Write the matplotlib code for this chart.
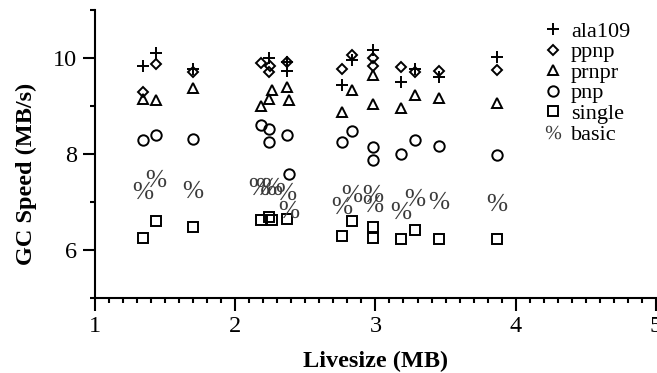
import matplotlib
matplotlib.use("Agg")
import matplotlib.pyplot as plt
from matplotlib.ticker import FixedLocator, MultipleLocator

plt.rcParams['font.family'] = ['Liberation Serif', 'DejaVu Serif']
plt.rcParams['mathtext.fontset'] = 'custom'
plt.rcParams['mathtext.rm'] = 'Liberation Serif'
plt.rcParams['mathtext.it'] = 'Liberation Serif:italic'
plt.rcParams['mathtext.bf'] = 'Liberation Serif:bold'

# ---- data ----
ala109_x = [1.34, 1.43, 1.70, 2.24, 2.37, 2.37, 2.76, 2.83, 2.98, 3.18, 3.28, 3.45, 3.87]
ala109_y = [9.83, 10.11, 9.78, 10.01, 9.92, 9.74, 9.43, 9.95, 10.17, 9.50, 9.77, 9.60, 10.02]

ppnp_x = [1.34, 1.43, 1.70, 2.18, 2.25, 2.24, 2.37, 2.76, 2.83, 2.98, 2.98, 3.18, 3.28, 3.45, 3.87]
ppnp_y = [9.29, 9.88, 9.71, 9.90, 9.84, 9.71, 9.92, 9.78, 10.06, 10.01, 9.83, 9.81, 9.71, 9.74, 9.76]

prnpr_x = [1.34, 1.43, 1.70, 2.18, 2.24, 2.26, 2.37, 2.38, 2.76, 2.83, 2.98, 2.98, 3.18, 3.28, 3.45, 3.87]
prnpr_y = [9.15, 9.12, 9.38, 9.01, 9.15, 9.34, 9.40, 9.12, 8.88, 9.33, 9.64, 9.04, 8.95, 9.24, 9.17, 9.06]

pnp_x = [1.34, 1.43, 1.70, 2.18, 2.24, 2.24, 2.37, 2.38, 2.76, 2.83, 2.98, 2.98, 3.18, 3.28, 3.45, 3.87]
pnp_y = [8.29, 8.39, 8.32, 8.60, 8.53, 8.25, 8.39, 7.59, 8.25, 8.47, 8.15, 7.88, 8.01, 8.29, 8.17, 7.99]

single_x = [1.34, 1.43, 1.70, 2.18, 2.24, 2.26, 2.37, 2.76, 2.83, 2.98, 2.98, 3.18, 3.28, 3.45, 3.87]
single_y = [6.26, 6.60, 6.48, 6.62, 6.69, 6.62, 6.65, 6.29, 6.60, 6.48, 6.26, 6.22, 6.41, 6.24, 6.24]

basic_x = [1.34, 1.43, 1.70, 2.17, 2.22, 2.26, 2.36, 2.38, 2.76, 2.83, 2.98, 2.98, 3.18, 3.28, 3.45, 3.87]
basic_y = [7.26, 7.50, 7.28, 7.33, 7.33, 7.33, 7.24, 6.86, 6.93, 7.19, 7.19, 6.97, 6.84, 7.10, 7.04, 7.00]

x_major = [1, 2, 3, 4, 5]
y_major = [6, 8, 10]
y_minor = [5, 7, 9, 11]

fig = plt.figure(figsize=(6.57, 3.73), dpi=100)
ax = fig.add_axes([0.145, 0.201, 0.853, 0.772])

lw = 1.4
common = dict(linestyle='none', color='black', markerfacecolor='none',
              markeredgecolor='black', markeredgewidth=lw)
ax.plot(ala109_x, ala109_y, marker='+', markersize=9, label='ala109', **common)
ax.plot(ppnp_x, ppnp_y, marker='D', markersize=5.5, label='ppnp', **common)
ax.plot(prnpr_x, prnpr_y, marker='^', markersize=7.5, label='prnpr', **common)
ax.plot(pnp_x, pnp_y, marker='o', markersize=7.5, label='pnp', **common)
ax.plot(single_x, single_y, marker='s', markersize=7.5, label='single', **common)
ax.plot(basic_x, basic_y, marker=r'$\mathrm{\%}$', markersize=14, linestyle='none',
        color='#3a3a3a', markeredgewidth=0, label='basic')

ax.set_xlim(1, 5)
ax.set_ylim(5, 11)
ax.xaxis.set_major_locator(FixedLocator(x_major))
ax.xaxis.set_minor_locator(MultipleLocator(0.1))
ax.yaxis.set_major_locator(FixedLocator(y_major))
ax.yaxis.set_minor_locator(FixedLocator(y_minor))

for s in ['top', 'right']:
    ax.spines[s].set_visible(False)
for s in ['left', 'bottom']:
    ax.spines[s].set_linewidth(1.5)

ax.tick_params(axis='both', which='major', direction='out', length=9, width=1.5,
               labelsize=17.5, pad=4)
ax.tick_params(axis='both', which='minor', direction='out', length=3.8, width=1.5)

ax.set_xlabel('Livesize (MB)', fontsize=17.5, fontweight='bold', labelpad=10)
ax.set_ylabel('GC Speed (MB/s)', fontsize=17.5, fontweight='bold')
ax.yaxis.set_label_coords(-0.104, 0.43)

leg = ax.legend(loc='upper left', bbox_to_anchor=(0.822, 0.955), bbox_transform=fig.transFigure,
                frameon=False, fontsize=16, handlelength=0.8, handletextpad=0.4,
                labelspacing=0.0, borderpad=0.2, borderaxespad=0)
leg.legend_handles[5].set_markersize(11)

fig.savefig('out.png', dpi=100)
